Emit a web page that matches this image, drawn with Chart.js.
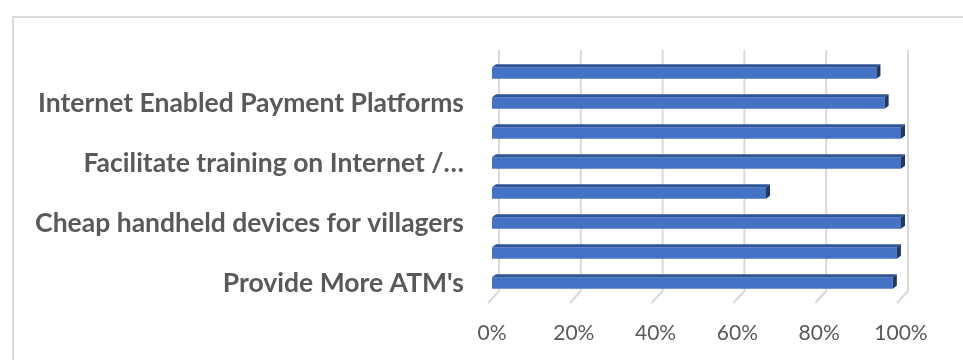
<!DOCTYPE html>
<html>
<head>
<meta charset="utf-8">
<script src="https://cdn.jsdelivr.net/npm/chart.js@4.4.1/dist/chart.umd.min.js"></script>
<style>
  html, body { margin: 0; padding: 0; background: #fff; }
  #wrap { width: 963px; height: 360px; position: relative; }
</style>
</head>
<body>
<div id="wrap"><canvas id="myChart"></canvas></div>
<script>
// categories from top to bottom; only every other one gets a printed label
const categories = [
    "",
    "Internet Enabled Payment Platforms",
    "",
    "Facilitate training on Internet /…",
    "",
    "Cheap handheld devices for villagers",
    "",
    "Provide More ATM's"
];
const shares = [0.94, 0.96, 1.00, 1.00, 0.67, 1.00, 0.99, 0.98];
const tickStep = 0.2;

const faceColor = "#4472C4";
const topColor = "#2F5597";
const sideColor = "#203864";
const gridColor = "#D9D9D9";
const textColor = "#595959";
const depthX = 4;
const depthY = 3;

// white page with the light frame around the plot
const framePlugin = {
    id: "frame",
    beforeDraw(chart) {
        const ctx = chart.ctx;
        ctx.save();
        ctx.fillStyle = "#FFFFFF";
        ctx.fillRect(0, 0, chart.width, chart.height);
        ctx.strokeStyle = gridColor;
        ctx.lineWidth = 2;
        ctx.strokeRect(13, 17, chart.width + 20, chart.height + 20);
        ctx.restore();
    }
};

// gridlines sit on the back wall and fold down to the floor
const wallPlugin = {
    id: "wall",
    beforeDatasetsDraw(chart) {
        const ctx = chart.ctx;
        const xs = chart.scales.x;
        const area = chart.chartArea;
        ctx.save();
        ctx.strokeStyle = gridColor;
        ctx.lineWidth = 2;
        for (const t of xs.ticks) {
            const x = xs.getPixelForValue(t.value) + 7;
            ctx.beginPath();
            ctx.moveTo(x, area.top - 8);
            ctx.lineTo(x, area.bottom - 7);
            ctx.lineTo(x - 11, area.bottom + 5);
            ctx.stroke();
        }
        ctx.restore();
    }
};

// top and end faces that give the bars their depth
const depthPlugin = {
    id: "depth",
    afterDatasetsDraw(chart) {
        const ctx = chart.ctx;
        const meta = chart.getDatasetMeta(0);
        ctx.save();
        for (const bar of meta.data) {
            const x0 = bar.base;
            const x1 = bar.x;
            const top = bar.y - bar.height / 2;
            const bottom = bar.y + bar.height / 2;

            ctx.fillStyle = topColor;
            ctx.beginPath();
            ctx.moveTo(x0, top);
            ctx.lineTo(x0 + depthX, top - depthY);
            ctx.lineTo(x1 + depthX, top - depthY);
            ctx.lineTo(x1, top);
            ctx.closePath();
            ctx.fill();

            ctx.fillStyle = sideColor;
            ctx.beginPath();
            ctx.moveTo(x1, top);
            ctx.lineTo(x1 + depthX, top - depthY);
            ctx.lineTo(x1 + depthX, bottom - depthY);
            ctx.lineTo(x1, bottom);
            ctx.closePath();
            ctx.fill();
        }
        ctx.restore();
    }
};

const ctx = document.getElementById("myChart").getContext("2d");
const myChart = new Chart(ctx, {
    type: "bar",
    data: {
        labels: categories,
        datasets: [
            {
                data: shares,
                backgroundColor: faceColor,
                borderWidth: 0,
                categoryPercentage: 1,
                barPercentage: 0.38
            }
        ]
    },
    options: {
        indexAxis: "y",
        responsive: true,
        maintainAspectRatio: false,
        animation: false,
        layout: {
            padding: { left: 0, top: 58, right: 62, bottom: 0 }
        },
        plugins: {
            legend: { display: false },
            tooltip: { enabled: false }
        },
        scales: {
            x: {
                min: 0,
                max: 1,
                grid: { display: false, drawTicks: false },
                border: { display: false },
                ticks: {
                    stepSize: tickStep,
                    padding: 23,
                    color: textColor,
                    font: { family: "Lato, 'Open Sans', sans-serif", size: 21 },
                    callback: (v) => Math.round(v * 100) + "%"
                },
                afterFit: (s) => { s.height = 62; }
            },
            y: {
                grid: { display: false, drawTicks: false },
                border: { display: false },
                ticks: {
                    autoSkip: false,
                    padding: 28,
                    color: textColor,
                    font: { family: "Lato, 'Open Sans', sans-serif", size: 26.5, weight: "bold" }
                },
                afterFit: (s) => { s.width = 492; }
            }
        }
    },
    plugins: [framePlugin, wallPlugin, depthPlugin]
});
</script>
</body>
</html>
